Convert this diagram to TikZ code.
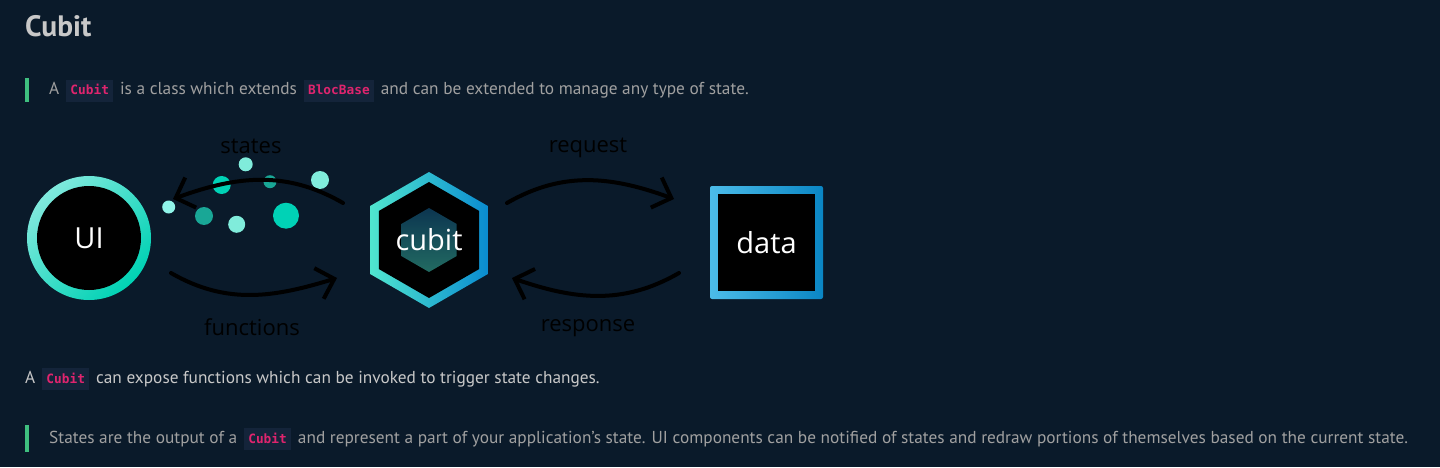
\documentclass[tikz,border=0pt]{standalone}
\usepackage{fontspec}
\setmainfont{PT Sans}
\newfontfamily\labelfont{Open Sans}
\newfontfamily\codefont{DejaVu Sans Mono}
\usetikzlibrary{arrows.meta,shapes.geometric}

\definecolor{pagebg}{HTML}{0A1A2A}
\definecolor{chipbg}{HTML}{14243A}
\definecolor{chippink}{HTML}{E0246E}
\definecolor{quotebar}{HTML}{3FBF7F}
\definecolor{quotetext}{HTML}{A0A0A0}
\definecolor{plaintext}{HTML}{C8C8C8}
\definecolor{uilight}{HTML}{80E9DD}
\definecolor{uidark}{HTML}{00D2B4}
\definecolor{hexlight}{HTML}{50E6CF}
\definecolor{hexblue}{HTML}{0A8CD0}
\definecolor{corebg}{HTML}{0C3550}
\definecolor{corefg}{HTML}{226B62}
\definecolor{datalight}{HTML}{4CBCE9}
\definecolor{datadark}{HTML}{0A86C4}
\definecolor{dotlight}{HTML}{80ECDB}
\definecolor{dotpale}{HTML}{90F5EA}
\definecolor{dotbright}{HTML}{00D2B6}
\definecolor{dotdark}{HTML}{19A796}

\newcommand{\chip}[1]{\hspace{2pt}{\setlength{\fboxsep}{1pt}\colorbox{chipbg}{\hspace{3.5pt}\rule[-6pt]{0pt}{20pt}\codefont\bfseries\fontsize{12.8}{14}\selectfont\textcolor{chippink}{#1}\hspace{3.5pt}}}\hspace{2pt}}

\begin{document}
\begin{tikzpicture}[x=1pt,y=1pt,
    flow/.style={-{Straight Barb[length=16pt,width=32pt]},line width=4pt,line cap=round,black},
    tag/.style={font=\labelfont\fontsize{22}{24}\selectfont,text=black},
    title/.style={font=\labelfont\fontsize{29}{32}\selectfont,text=white,inner sep=0pt},
    body/.style={anchor=base west,inner sep=0pt,font=\fontsize{17.3}{20}\selectfont}]

  \fill[pagebg] (0,0) rectangle (1440,467);
  \useasboundingbox (0,0) rectangle (1440,467);

  % page text
  \node[body,font=\bfseries\fontsize{29.5}{33}\selectfont,text=plaintext] (head) at (25,430) {Cubit};
  \fill[quotebar] (25,365) rectangle (28.5,389);
  \node[body,text=quotetext] (intro) at (49,372)
    {A \chip{Cubit} is a class which extends \chip{BlocBase} and can be extended to manage any type of state.};
  \node[body,text=plaintext] (expose) at (25,84)
    {A \chip{Cubit} can expose functions which can be invoked to trigger state changes.};
  \fill[quotebar] (25,15) rectangle (28.5,42);
  \node[body,text=quotetext] (states) at (49,24)
    {States are the output of a \chip{Cubit} and represent a part of your application's state. UI components can be notified of states and redraw portions of themselves based on the current state.};

  % UI
  \node[circle,minimum size=124pt,inner sep=0pt,top color=uilight,bottom color=uidark,shading angle=45] (uiring) at (89,229) {};
  \node[circle,minimum size=104pt,inner sep=0pt,fill=black,title] (ui) at (uiring.center) {UI};

  % cubit
  \node[regular polygon,regular polygon sides=6,shape border rotate=30,minimum size=136pt,inner sep=0pt,
        top color=hexlight,bottom color=hexblue,shading angle=90] (cubitring) at (429,227) {};
  \node[regular polygon,regular polygon sides=6,shape border rotate=30,minimum size=116pt,inner sep=0pt,fill=black] (cubit) at (cubitring.center) {};
  \node[regular polygon,regular polygon sides=6,shape border rotate=30,minimum size=64pt,inner sep=0pt,
        top color=corebg,bottom color=corefg] (cubitcore) at (cubitring.center) {};
  \node[title] (cubitname) at (cubitring.center) {cubit};

  % data
  \node[rectangle,rounded corners=2pt,minimum size=113pt,inner sep=0pt,
        top color=datalight,bottom color=datadark,shading angle=90] (dataring) at (766.5,224.5) {};
  \node[rectangle,minimum size=97pt,inner sep=0pt,fill=black,title] (data) at (dataring.center) {data};

  % states
  \foreach \px/\py/\r/\c in {245.7/302.7/7/dotlight, 221.7/282/9/dotbright, 270/285.3/6.5/dotdark,
      320/287/9/dotlight, 168.7/260/6.5/dotpale, 204/251/9/dotdark, 236.7/242.7/8.5/dotlight,
      286/251.3/13/dotbright}
    \fill[\c] (\px,\py) circle (\r);

  \coordinate (statesA) at (343,264);
  \coordinate (statesB) at (173,268);
  \coordinate (callA) at (171,194);
  \coordinate (callB) at (337,189);
  \coordinate (askA) at (507,264);
  \coordinate (askB) at (674,268);
  \coordinate (answerA) at (679,194);
  \coordinate (answerB) at (512,189);

  \draw[flow] (statesA) to[out=150,in=20] (statesB);
  \draw[flow] (callA) to[out=-30,in=197] (callB);
  \draw[flow] (askA) to[out=30,in=160] (askB);
  \draw[flow] (answerA) to[out=210,in=-19] (answerB);

  \node[tag] (stateslabel) at (251,321) {states};
  \node[tag] (calllabel) at (252,140) {functions};
  \node[tag] (asklabel) at (588,319) {request};
  \node[tag] (answerlabel) at (588,139) {response};
\end{tikzpicture}
\end{document}
